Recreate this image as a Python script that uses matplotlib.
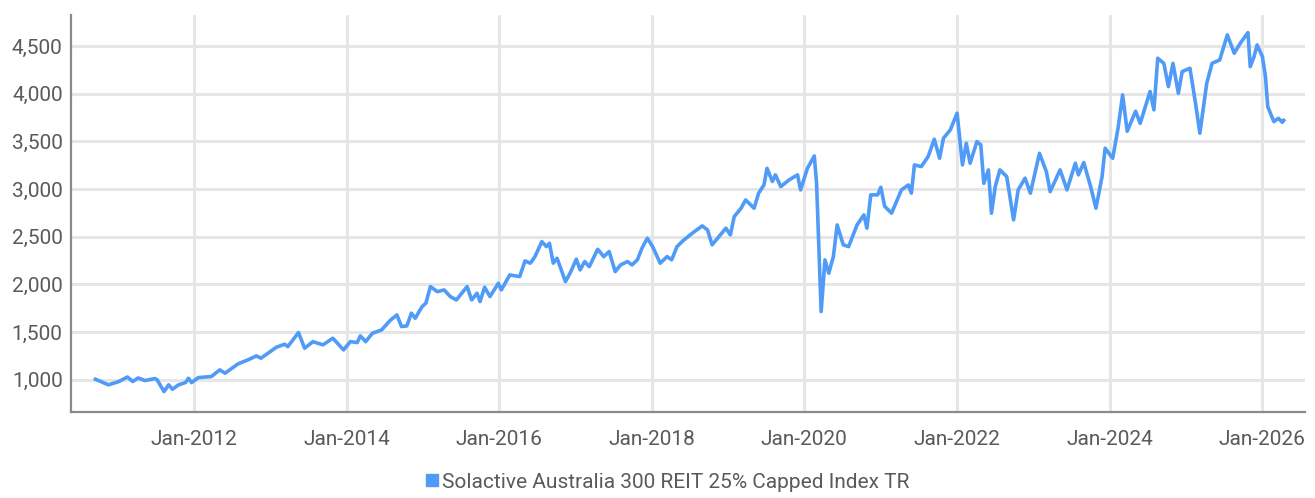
"""
Solactive Australia 300 REIT 25% Capped Index TR, index level over time.

Outputs: out.png
"""

import numpy as np
import pandas as pd
import matplotlib
matplotlib.use("Agg")
import matplotlib.pyplot as plt
import matplotlib.dates as mdates
from matplotlib.lines import Line2D
from matplotlib.ticker import FuncFormatter

plt.rcParams["font.family"] = ["Roboto", "DejaVu Sans"]

# ── Data ───────────────────────────────────────────────────────────────
SERIES_NAME = "Solactive Australia 300 REIT 25% Capped Index TR"

# decimal years
t_years = [
    2010.71, 2010.88, 2011.01, 2011.13, 2011.20, 2011.27, 2011.36, 2011.49,
    2011.52, 2011.61, 2011.67, 2011.72, 2011.80, 2011.89, 2011.93, 2011.97,
    2012.06, 2012.23, 2012.34, 2012.41, 2012.58, 2012.71, 2012.82, 2012.88,
    2013.08, 2013.19, 2013.23, 2013.37, 2013.45, 2013.56, 2013.69, 2013.82,
    2013.96, 2014.05, 2014.14, 2014.18, 2014.25, 2014.34, 2014.46, 2014.57,
    2014.66, 2014.72, 2014.79, 2014.85, 2014.90, 2014.99, 2015.04, 2015.10,
    2015.19, 2015.28, 2015.36, 2015.44, 2015.58, 2015.64, 2015.71, 2015.75,
    2015.81, 2015.88, 2015.99, 2016.03, 2016.14, 2016.27, 2016.34, 2016.41,
    2016.47, 2016.56, 2016.62, 2016.66, 2016.71, 2016.76, 2016.87, 2016.93,
    2017.01, 2017.06, 2017.12, 2017.18, 2017.29, 2017.37, 2017.44, 2017.52,
    2017.59, 2017.68, 2017.74, 2017.81, 2017.87, 2017.94, 2018.01, 2018.11,
    2018.20, 2018.26, 2018.33, 2018.42, 2018.53, 2018.66, 2018.73, 2018.79,
    2018.88, 2018.97, 2019.03, 2019.08, 2019.17, 2019.23, 2019.34, 2019.40,
    2019.47, 2019.51, 2019.58, 2019.62, 2019.69, 2019.80, 2019.91, 2019.95,
    2020.04, 2020.13, 2020.16, 2020.22, 2020.27, 2020.32, 2020.38, 2020.43,
    2020.51, 2020.58, 2020.69, 2020.78, 2020.82, 2020.87, 2020.96, 2021.00,
    2021.05, 2021.14, 2021.27, 2021.36, 2021.40, 2021.44, 2021.53, 2021.62,
    2021.70, 2021.77, 2021.82, 2021.91, 2022.00, 2022.07, 2022.12, 2022.17,
    2022.26, 2022.31, 2022.35, 2022.41, 2022.45, 2022.50, 2022.56, 2022.65,
    2022.74, 2022.80, 2022.89, 2022.96, 2023.08, 2023.17, 2023.22, 2023.35,
    2023.44, 2023.55, 2023.59, 2023.66, 2023.75, 2023.82, 2023.90, 2023.94,
    2024.04, 2024.11, 2024.17, 2024.23, 2024.34, 2024.40, 2024.53, 2024.58,
    2024.63, 2024.71, 2024.77, 2024.83, 2024.90, 2024.95, 2025.05, 2025.13,
    2025.18, 2025.27, 2025.34, 2025.44, 2025.54, 2025.63, 2025.71, 2025.81,
    2025.84, 2025.89, 2025.93, 2026.00, 2026.04, 2026.07, 2026.15, 2026.21,
    2026.26, 2026.28,
]

index_level = [
    1007, 948, 980, 1030, 983, 1020, 993, 1014,
    1000, 877, 948, 902, 948, 972, 1017, 972,
    1024, 1035, 1105, 1070, 1168, 1210, 1251, 1227,
    1342, 1374, 1349, 1496, 1332, 1401, 1367, 1437,
    1314, 1401, 1391, 1461, 1401, 1489, 1524, 1622,
    1681, 1559, 1566, 1699, 1646, 1768, 1804, 1978,
    1925, 1943, 1873, 1838, 1978, 1838, 1908, 1821,
    1971, 1873, 2013, 1943, 2100, 2083, 2247, 2223,
    2292, 2449, 2397, 2432, 2223, 2275, 2030, 2118,
    2265, 2153, 2240, 2187, 2369, 2292, 2345, 2135,
    2205, 2240, 2205, 2258, 2380, 2485, 2397, 2223,
    2292, 2258, 2397, 2467, 2537, 2614, 2572, 2415,
    2502, 2590, 2520, 2711, 2799, 2886, 2799, 2957,
    3043, 3218, 3080, 3149, 3026, 3096, 3149, 2991,
    3218, 3347, 3060, 1716, 2258, 2118, 2292, 2624,
    2415, 2397, 2624, 2729, 2590, 2939, 2939, 3018,
    2820, 2747, 2991, 3043, 2957, 3253, 3236, 3341,
    3522, 3323, 3532, 3620, 3795, 3253, 3480, 3271,
    3498, 3463, 3060, 3201, 2747, 3026, 3201, 3131,
    2677, 2991, 3114, 2957, 3375, 3183, 2973, 3201,
    2991, 3271, 3149, 3278, 3026, 2799, 3131, 3428,
    3323, 3638, 3987, 3606, 3816, 3689, 4023, 3830,
    4371, 4318, 4074, 4318, 4004, 4231, 4266, 3864,
    3585, 4109, 4318, 4353, 4616, 4424, 4529, 4640,
    4283, 4388, 4511, 4388, 4179, 3864, 3707, 3742,
    3700, 3720,
]

y_ticks = [1000, 1500, 2000, 2500, 3000, 3500, 4000, 4500]
x_tick_years = [2012, 2014, 2016, 2018, 2020, 2022, 2024, 2026]


def to_date(y):
    year = int(y)
    return pd.Timestamp(year=year, month=1, day=1) + pd.Timedelta(days=(y - year) * 365.25)


def plot():
    dates = [to_date(y) for y in t_years]

    fig = plt.figure(figsize=(13.15, 4.98), dpi=100)
    ax = fig.add_axes([0.054, 0.173, 0.9385, 0.797])

    line_color = "#4f9bf7"
    ax.plot(dates, index_level, color=line_color, lw=2.6, solid_joinstyle="round")

    ax.set_xlim(to_date(2010.39), to_date(2026.56))
    ax.set_ylim(665, 4825)

    ax.set_yticks(y_ticks)
    ax.yaxis.set_major_formatter(FuncFormatter(lambda v, _: f"{v:,.0f}"))
    ax.set_xticks([to_date(y) for y in x_tick_years])
    ax.xaxis.set_major_formatter(mdates.DateFormatter("Jan-%Y"))

    ax.grid(True, color="#e6e6e6", lw=2.2)
    ax.set_axisbelow(True)
    for side in ("top", "right"):
        ax.spines[side].set_visible(False)
    for side in ("left", "bottom"):
        ax.spines[side].set_color("#8a8a8a")
        ax.spines[side].set_linewidth(1.6)

    ax.tick_params(length=0, labelsize=15, labelcolor="#5a5a5a")
    ax.tick_params(axis="y", pad=6)
    ax.tick_params(axis="x", pad=13)

    handle = Line2D([], [], marker="s", ls="none", color=line_color, markersize=8)
    fig.legend([handle], [SERIES_NAME], loc="center", bbox_to_anchor=(0.507, 0.032),
               frameon=False, fontsize=15, labelcolor="#5a5a5a",
               handletextpad=0.1, handlelength=0.8)

    fig.savefig("out.png", dpi=100)
    return fig


if __name__ == "__main__":
    plot()
